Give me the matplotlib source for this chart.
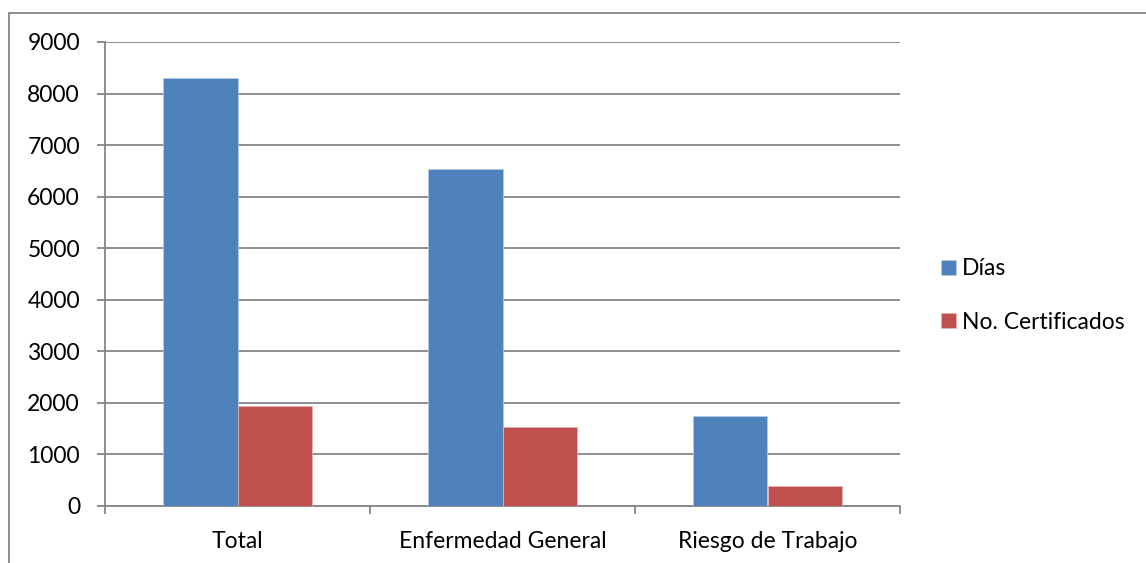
import numpy as np
import matplotlib.pyplot as plt
from matplotlib.patches import Rectangle

plt.rcParams['font.family'] = ['Lato', 'DejaVu Sans']

# Data
categorias = ["Total", "Enfermedad General", "Riesgo de Trabajo"]
dias = [8300, 6530, 1750]
certificados = [1940, 1540, 390]
series_names = ["Días", "No. Certificados"]

BLUE = "#4F81BD"
RED = "#C0504D"
GRID = "#868686"
FS = 16.5

fig = plt.figure(figsize=(11.46, 5.63), dpi=100)
ax = fig.add_axes([105 / 1146, 57 / 563, 795 / 1146, 464 / 563])

# outer chart border (runs off the right and bottom edges)
fig.patches.append(Rectangle((9 / 1146, -0.05), 1.0, 1 - 12.5 / 563 + 0.05,
                             transform=fig.transFigure, fill=False,
                             edgecolor=GRID, linewidth=1.3))

x = np.arange(len(categorias))
w = 0.2823
ax.bar(x - w / 2, dias, w, color=BLUE, edgecolor="#B9CDE5", linewidth=0.5,
       label=series_names[0], zorder=3)
ax.bar(x + w / 2, certificados, w, color=RED, edgecolor="#E6B9B8", linewidth=0.5,
       label=series_names[1], zorder=3)

ax.set_xlim(-0.5, len(categorias) - 0.5)
ax.set_ylim(0, 9000)
ax.set_yticks(np.arange(0, 9001, 1000))
ax.yaxis.grid(True, color=GRID, linewidth=1.3, zorder=0)
ax.set_axisbelow(True)

# category labels centred, ticks on category boundaries
ax.set_xticks(x)
ax.set_xticklabels(categorias)
ax.tick_params(axis='x', length=0, pad=18, labelsize=FS)
ax.set_xticks(np.arange(-0.5, len(categorias)), minor=True)
ax.tick_params(axis='x', which='minor', length=6, width=1.3, color=GRID)
ax.tick_params(axis='y', length=6, width=1.3, color=GRID, labelsize=FS, pad=12)

for side in ['top', 'right']:
    ax.spines[side].set_visible(False)
for side in ['left', 'bottom']:
    ax.spines[side].set_color(GRID)
    ax.spines[side].set_linewidth(1.3)

fig.legend(*ax.get_legend_handles_labels(), loc='center left',
           bbox_to_anchor=(941 / 1146, 1 - 295.5 / 563), frameon=False,
           fontsize=FS, borderpad=0, borderaxespad=0,
           handlelength=0.65, handleheight=0.65, handletextpad=0.28,
           labelspacing=1.4)

fig.savefig("out.png", dpi=100)
